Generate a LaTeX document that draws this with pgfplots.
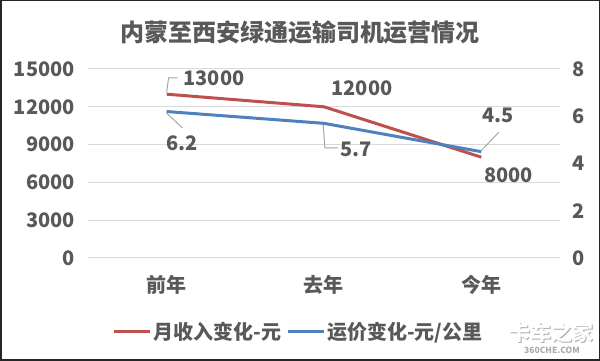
\documentclass[border=0pt]{standalone}
\usepackage{pgfplots}
\pgfplotsset{compat=1.18}
\usepackage{fontspec}
\setmainfont{Noto Sans CJK SC}
\definecolor{txt}{HTML}{595959}
\definecolor{redl}{HTML}{C0504D}
\definecolor{bluel}{HTML}{4F81BD}
\definecolor{gridc}{HTML}{D9D9D9}
\definecolor{lead}{HTML}{A6A6A6}
\tikzset{lbl/.style={font=\fontsize{20}{24}\selectfont\bfseries, text=txt, inner sep=0pt}}
\begin{document}
\begin{tikzpicture}[x=1pt,y=1pt]
\useasboundingbox (0,0) rectangle (600,361);
\fill[white] (0,0) rectangle (600,361);
\pgfplotsset{
  base/.style={
    scale only axis, width=472pt, height=189pt,
    at={(88pt,103pt)}, anchor=south west,
    xmin=-0.5, xmax=2.5, ymin=0, clip=false,
    axis line style={draw=none},
    major tick length=0pt,
    scaled y ticks=false,
    tick label style={font=\fontsize{20}{24}\selectfont\bfseries, text=txt},
  },
}
\begin{axis}[base, ymax=15000,
  ytick={0,3000,6000,9000,12000,15000},
  yticklabels={0,3000,6000,9000,12000,15000},
  ymajorgrids, grid style={gridc, line width=1pt},
  xtick={0,1,2}, xticklabels={前年,去年,今年},
  xticklabel style={anchor=center, yshift=-27pt, inner sep=0pt},
  yticklabel style={anchor=east, inner sep=0pt, xshift=-13pt},
  ]
\addplot[redl, line width=3pt] coordinates {(0,13000) (1,12000) (2,8000)};
% leader lines
\draw[lead, line width=1pt] (axis cs:0,13150) -- (axis cs:0.012,14286) -- (axis cs:0.07,14286);
\draw[lead, line width=1pt] (axis cs:0,11500) -- (axis cs:0.1,10320);
\draw[lead, line width=1pt] (axis cs:0.995,10550) -- (axis cs:1.006,8730) -- (axis cs:1.089,8730);
\draw[lead, line width=1pt] (axis cs:2.004,8580) -- (axis cs:2.112,10000);
% data labels
\node[lbl] at (axis cs:0.301,14286) {13000};
\node[lbl] at (axis cs:1.242,13492) {12000};
\node[lbl] at (axis cs:0.10,9127) {6.2};
\node[lbl] at (axis cs:1.203,8651) {5.7};
\node[lbl] at (axis cs:2.106,11349) {4.5};
\node[lbl] at (axis cs:2.173,6587) {8000};
\end{axis}
\begin{axis}[base, ymax=8,
  ytick={0,2,4,6,8}, yticklabels={0,2,4,6,8},
  yticklabel pos=right, xtick=\empty,
  yticklabel style={anchor=west, inner sep=0pt, xshift=12pt},
  legend columns=2,
  legend style={at={(0.446,-0.3915)}, anchor=center, draw=none, fill=none,
    font=\fontsize{20}{24}\selectfont\bfseries, text=txt,
    nodes={inner sep=2pt},
    /tikz/every even column/.append style={column sep=3pt}},
  legend image code/.code={\draw[#1] (0pt,0pt) -- (36pt,0pt);},
  ]
\addlegendimage{redl, line width=3pt}
\addlegendentry{月收入变化-元}
\addplot[bluel, line width=3pt] coordinates {(0,6.2) (1,5.7) (2,4.5)};
\addlegendentry{运价变化-元/公里}
\end{axis}
\node[font=\fontsize{24}{28}\selectfont\bfseries, text=txt] at (300,329) {内蒙至西安绿通运输司机运营情况};
% watermark
\node[font=\fontsize{21}{22}\selectfont\bfseries, text=gray!65] at (552,27.5) {卡车之家};
\node[font=\fontsize{21}{22}\selectfont\bfseries, text=white] at (551,28.5) {卡车之家};
\node[font=\fontsize{8.5}{9}\selectfont\bfseries, text=gray!65] at (552,11) {360CHE.COM};
\draw[black!85, line width=1.5pt] (0.75,0.75) rectangle (599.25,360.25);
\end{tikzpicture}
\end{document}
